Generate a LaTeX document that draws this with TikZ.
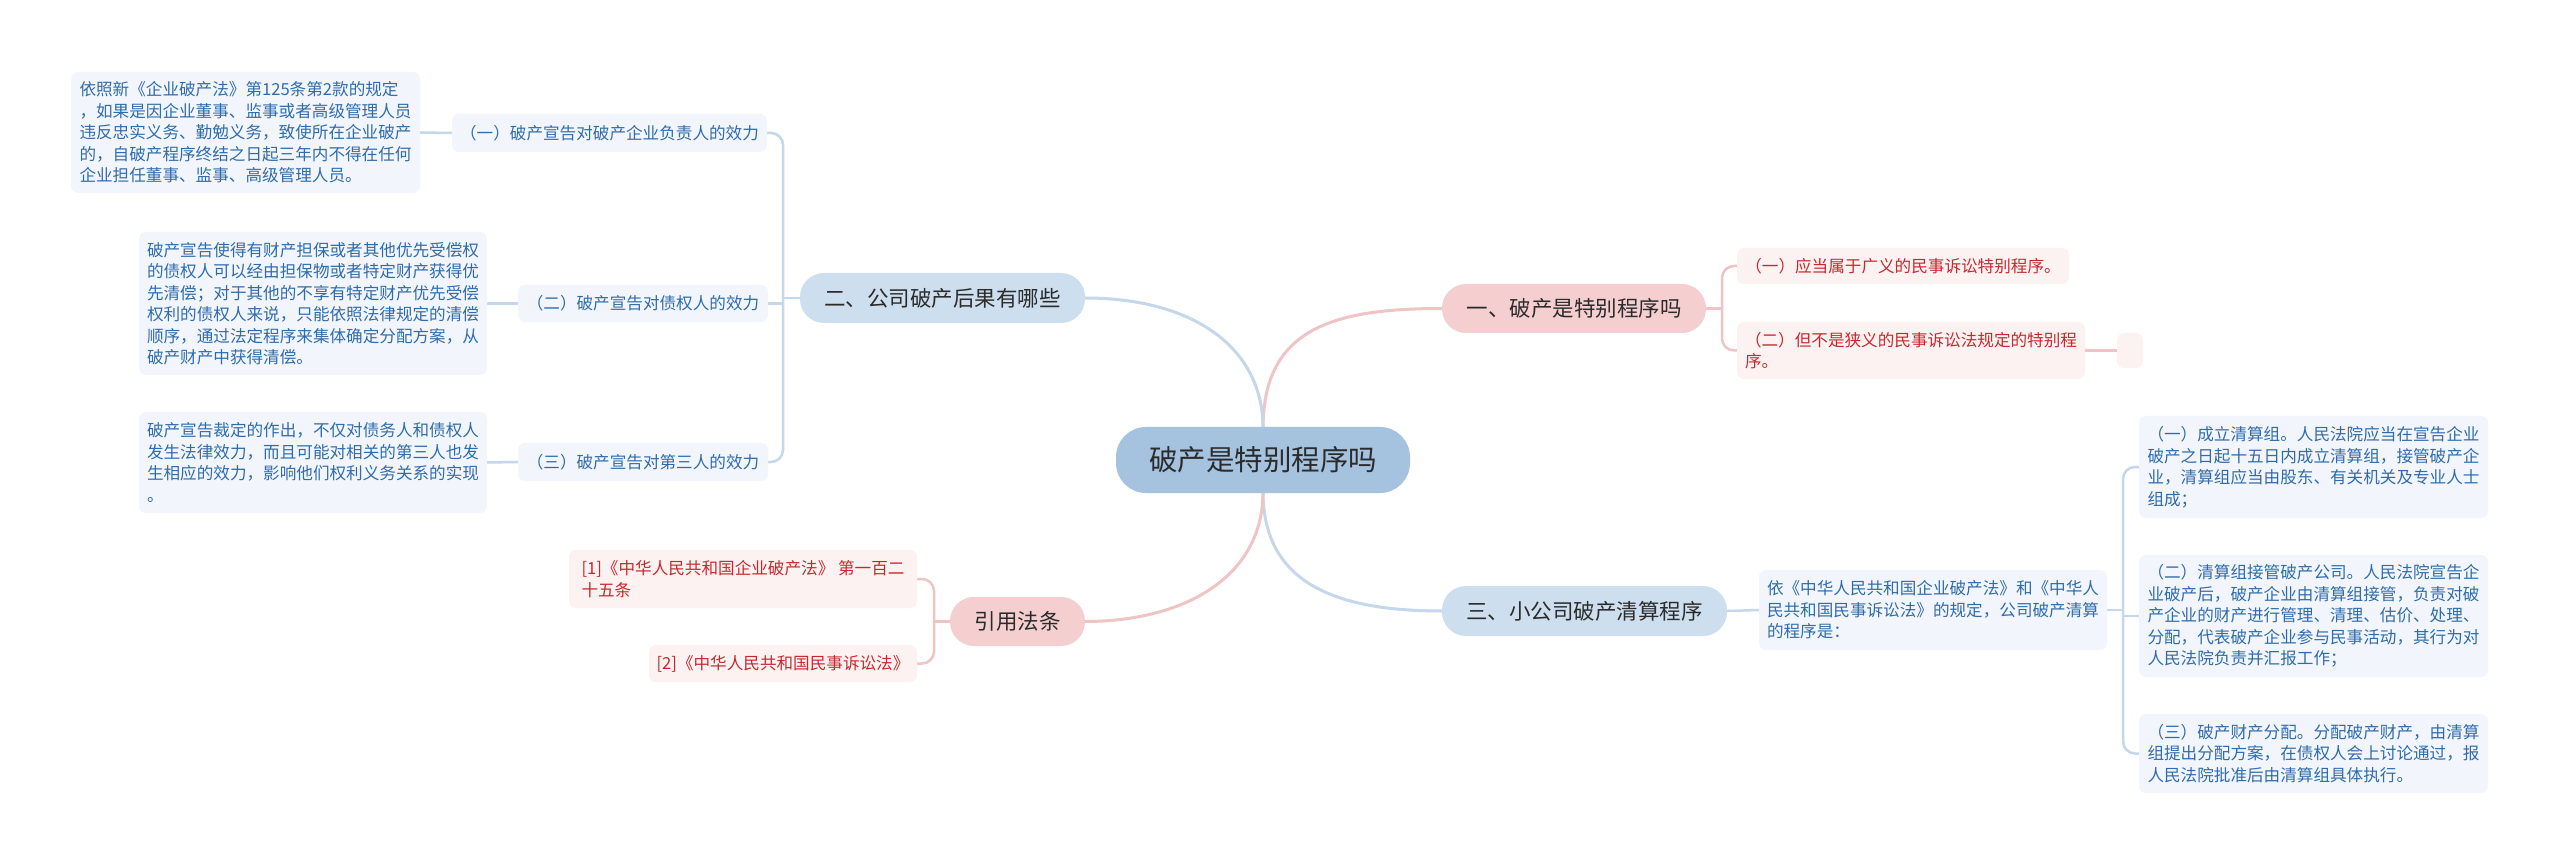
\documentclass[tikz,border=0pt]{standalone}
\usepackage{fontspec}
\newfontfamily\cjk{Noto Sans CJK SC}
\usetikzlibrary{backgrounds}
\definecolor{rootfill}{HTML}{A5C3DF}
\definecolor{lbfill}{HTML}{CDDEEE}
\definecolor{lpfill}{HTML}{F5CFD0}
\definecolor{leafbfill}{HTML}{F2F6FC}
\definecolor{leafpfill}{HTML}{FDF2F2}
\definecolor{leafbtext}{HTML}{2F6CAD}
\definecolor{leafptext}{HTML}{C8282D}
\definecolor{blinecol}{HTML}{C5D7EA}
\definecolor{plinecol}{HTML}{F0C4C4}
\definecolor{darktext}{HTML}{2B2B2B}
\begin{document}
\begin{tikzpicture}[x=1pt,y=-1pt,
  rootnode/.style={fill=rootfill, rounded corners=30pt, text=darktext, inner sep=0pt,
    font=\cjk\fontsize{28.5pt}{32pt}\selectfont},
  lbnode/.style={fill=lbfill, rounded corners=24pt, text=darktext, inner sep=0pt,
    font=\cjk\fontsize{21.5pt}{24pt}\selectfont},
  lpnode/.style={fill=lpfill, rounded corners=24pt, text=darktext, inner sep=0pt,
    font=\cjk\fontsize{21.5pt}{24pt}\selectfont},
  leafb/.style={fill=leafbfill, text=leafbtext, rounded corners=7pt, align=left,
    inner xsep=8pt, inner ysep=6pt, font=\cjk\fontsize{16.6pt}{21.5pt}\selectfont},
  leafp/.style={fill=leafpfill, text=leafptext, rounded corners=7pt, align=left,
    inner xsep=8pt, inner ysep=6pt, font=\cjk\fontsize{16.6pt}{21.5pt}\selectfont},
  bcurve/.style={draw=blinecol, line width=3pt},
  pcurve/.style={draw=plinecol, line width=3pt},
  bline/.style={draw=blinecol, line width=2.5pt, rounded corners=12pt},
  pline/.style={draw=plinecol, line width=2.5pt, rounded corners=12pt}
]
\useasboundingbox (0,0) rectangle (2560,866);

% root
\node[rootnode, minimum width=294, minimum height=66] (root) at (1263,460) {破产是特别程序吗};

% level 1
\node[lpnode, minimum width=264, minimum height=49] (n1) at (1574,308.5) {一、破产是特别程序吗};
\node[lbnode, minimum width=285, minimum height=50] (n2) at (942.5,298) {二、公司破产后果有哪些};
\node[lbnode, minimum width=285, minimum height=50] (n3) at (1584.5,611) {三、小公司破产清算程序};
\node[lpnode, minimum width=135, minimum height=49] (n4) at (1017.5,621.5) {引用法条};

% children of 一
\node[leafp, minimum width=332, minimum height=36] (p1) at (1903,266) {（一）应当属于广义的民事诉讼特别程序。};
\node[leafp, minimum width=348, minimum height=57] (p2) at (1911,350.5) {（二）但不是狭义的民事诉讼法规定的特别程\\序。};
\node[leafp, minimum width=26, minimum height=35, inner sep=0pt] (p3) at (2130,350.5) {};

% children of 二
\node[leafb, minimum width=315, minimum height=38, inner sep=0pt] (a1) at (609.5,133) {（一）破产宣告对破产企业负责人的效力};
\node[leafb, minimum width=250, minimum height=37, inner sep=0pt] (a2) at (643,303.5) {（二）破产宣告对债权人的效力};
\node[leafb, minimum width=250, minimum height=38, inner sep=0pt] (a3) at (643,462) {（三）破产宣告对第三人的效力};

\node[leafb, minimum width=349, minimum height=121] (t1) at (245.5,132.5) {依照新《企业破产法》第125条第2款的规定\\，如果是因企业董事、监事或者高级管理人员\\违反忠实义务、勤勉义务，致使所在企业破产\\的，自破产程序终结之日起三年内不得在任何\\企业担任董事、监事、高级管理人员。};
\node[leafb, minimum width=348, minimum height=143] (t2) at (313,303.5) {破产宣告使得有财产担保或者其他优先受偿权\\的债权人可以经由担保物或者特定财产获得优\\先清偿；对于其他的不享有特定财产优先受偿\\权利的债权人来说，只能依照法律规定的清偿\\顺序，通过法定程序来集体确定分配方案，从\\破产财产中获得清偿。};
\node[leafb, minimum width=348, minimum height=101] (t3) at (313,462.5) {破产宣告裁定的作出，不仅对债务人和债权人\\发生法律效力，而且可能对相关的第三人也发\\生相应的效力，影响他们权利义务关系的实现\\。};

% children of 引用法条
\node[leafp, minimum width=348, minimum height=58] (r1) at (743,579) {[1]《中华人民共和国企业破产法》 第一百二\\十五条};
\node[leafp, minimum width=268, minimum height=37, inner sep=0pt] (r2) at (783,663.5) {[2]《中华人民共和国民事诉讼法》};

% children of 三
\node[leafb, minimum width=348, minimum height=80] (yi) at (1933,610) {依《中华人民共和国企业破产法》和《中华人\\民共和国民事诉讼法》的规定，公司破产清算\\的程序是：};
\node[leafb, minimum width=349, minimum height=102] (s1) at (2313.5,467) {（一）成立清算组。人民法院应当在宣告企业\\破产之日起十五日内成立清算组，接管破产企\\业，清算组应当由股东、有关机关及专业人士\\组成；};
\node[leafb, minimum width=349, minimum height=122] (s2) at (2313.5,616) {（二）清算组接管破产公司。人民法院宣告企\\业破产后，破产企业由清算组接管，负责对破\\产企业的财产进行管理、清理、估价、处理、\\分配，代表破产企业参与民事活动，其行为对\\人民法院负责并汇报工作；};
\node[leafb, minimum width=349, minimum height=79] (s3) at (2313.5,753.5) {（三）破产财产分配。分配破产财产，由清算\\组提出分配方案，在债权人会上讨论通过，报\\人民法院批准后由清算组具体执行。};

% junction coordinates
\coordinate (j1) at (1722,308.5);
\coordinate (j2) at (783,298);
\coordinate (j2b) at (783,303.5);
\coordinate (j3) at (2123,610);
\coordinate (j3b) at (2123,616);
\coordinate (j4) at (934,621.5);

\begin{scope}[on background layer]
\fill[white] (0,0) rectangle (2560,866);
% main curves
\draw[pcurve] (root.north) .. controls (1264,330) and (1330,308.5) .. (n1.west);
\draw[bcurve] (root.north) .. controls (1262,345) and (1190,298) .. (n2.east);
\draw[bcurve] (root.south) .. controls (1264,580) and (1330,611) .. (n3.west);
\draw[pcurve] (root.south) .. controls (1262,580) and (1180,621.5) .. (n4.east);
% 一 branch
\draw[pline] (n1.east) -- (j1);
\draw[pline] (p1.west) -| (j1) |- (p2.west);
\draw[pline] (p2.east) -- (p3.west);
% 二 branch
\draw[bline] (n2.west) -- (j2);
\draw[bline] (a1.east) -| (j2) |- (a3.east);
\draw[bline] (a2.east) -- (j2b);
\draw[bline] (t1.east) -- (a1.west);
\draw[bline] (t2.east) -- (a2.west);
\draw[bline] (t3.east) -- (a3.west);
% 三 branch
\draw[bline] (n3.east) -- (yi.west);
\draw[bline] (yi.east) -- (j3);
\draw[bline] (s1.west) -| (j3) |- (s3.west);
\draw[bline] (s2.west) -- (j3b);
% 引用法条 branch
\draw[pline] (n4.west) -- (j4);
\draw[pline] (r1.east) -| (j4) |- (r2.east);
\end{scope}
\end{tikzpicture}
\end{document}
